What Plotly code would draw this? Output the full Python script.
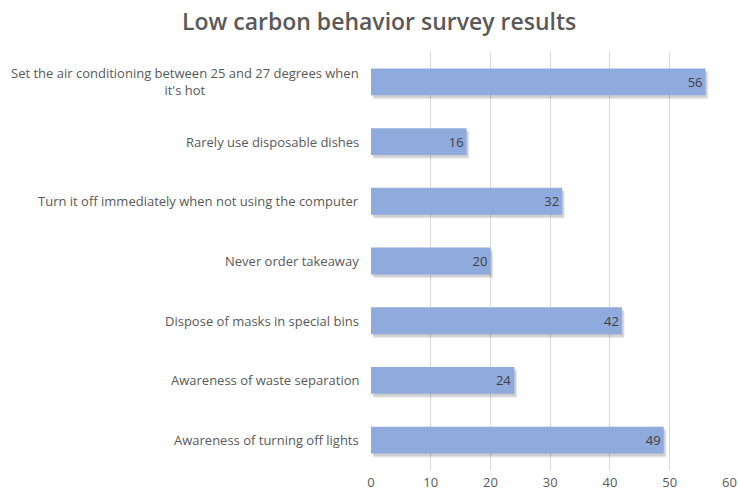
import plotly.graph_objects as go

# Survey answers, listed top to bottom as shown on the chart
categories = [
    "Set the air conditioning between 25 and 27 degrees when<br>it's hot",
    "Rarely use disposable dishes",
    "Turn it off immediately when not using the computer",
    "Never order takeaway",
    "Dispose of masks in special bins",
    "Awareness of waste separation",
    "Awareness of turning off lights",
]
counts = [56, 16, 32, 20, 42, 24, 49]
x_ticks = [0, 10, 20, 30, 40, 50, 60]

FONT = "Open Sans"
TEXT_GREY = "#595959"
BAR_BLUE = "#8FAADC"
BAR_WIDTH = 0.45

fig = go.Figure()

# soft drop shadow behind each bar
for shift, alpha in [(0.45, 0.10), (0.3, 0.16)]:
    fig.add_trace(go.Bar(
        y=categories, x=counts, orientation="h",
        base=shift, width=BAR_WIDTH, offset=-BAR_WIDTH / 2 + shift / 7,
        marker=dict(color=f"rgba(60,60,60,{alpha})", line=dict(width=0)),
        hoverinfo="skip", showlegend=False,
    ))

# main bars with value labels at the inner end
fig.add_trace(go.Bar(
    y=categories, x=counts, orientation="h",
    width=BAR_WIDTH,
    marker=dict(color=BAR_BLUE, line=dict(width=0)),
    text=[str(v) for v in counts],
    textposition="inside", insidetextanchor="end",
    textfont=dict(family=FONT, size=13, color="#404040"),
    showlegend=False,
))

# category labels, centred multi-line text right-aligned to the axis
for cat in categories:
    fig.add_annotation(
        x=0, xref="paper", y=cat, yref="y",
        text=cat, showarrow=False,
        xanchor="right", align="center", xshift=-10,
        font=dict(family=FONT, size=13, color=TEXT_GREY),
    )

fig.update_layout(
    width=739, height=494,
    margin=dict(l=371, r=9, t=52, b=24),
    paper_bgcolor="white", plot_bgcolor="white",
    barmode="overlay",
    title=dict(
        text="Low carbon behavior survey results",
        x=0.513, xanchor="center", y=0.955, yanchor="middle",
        font=dict(family=FONT, size=23, color=TEXT_GREY, weight=600),
    ),
    xaxis=dict(
        range=[0, 60.1], tickvals=x_ticks,
        ticklabeloverflow="allow", automargin=False,
        ticklabelstandoff=3,
        showgrid=True, gridcolor="#D9D9D9", gridwidth=1,
        zeroline=False, showline=False, ticks="",
        tickfont=dict(family=FONT, size=13, color=TEXT_GREY),
    ),
    yaxis=dict(
        autorange="reversed", showticklabels=False, automargin=False,
        showgrid=False, zeroline=False, showline=False, ticks="",
    ),
)

fig.write_html("out.html")
